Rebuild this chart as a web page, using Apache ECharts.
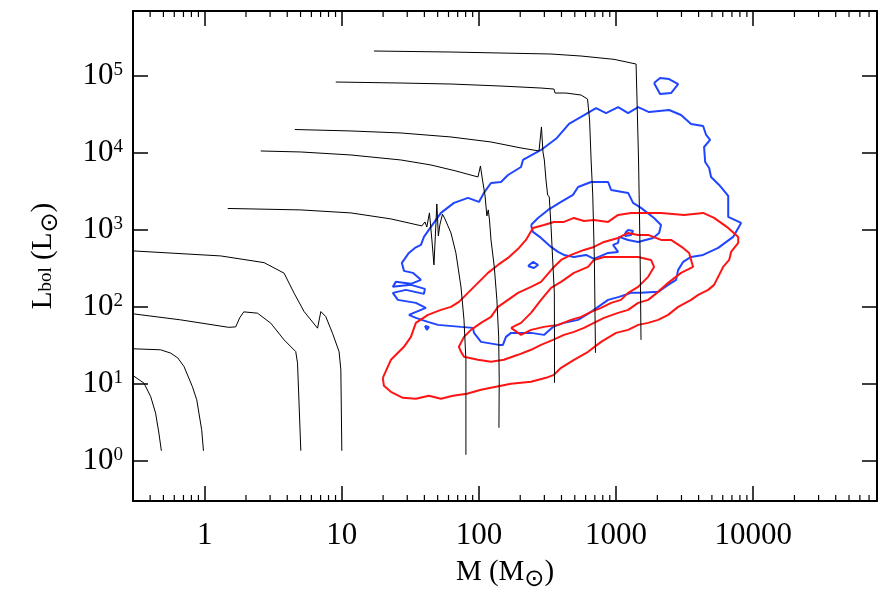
<!DOCTYPE html>
<html>
<head>
<meta charset="utf-8">
<script src="https://cdn.jsdelivr.net/npm/echarts@6/dist/echarts.min.js"></script>
<style>
  html, body { margin: 0; padding: 0; background: #fff; }
  #chart { width: 886px; height: 590px; }
</style>
</head>
<body>
<div id="chart"></div>
<script>
// every point is [log10 M (Msun), log10 Lbol (Lsun)]

// evolutionary tracks (black)
const track1 = [[-0.52, 1.104], [-0.443, 1.009], [-0.394, 0.835], [-0.358, 0.619], [-0.334, 0.36], [-0.316, 0.13]];
const track2 = [[-0.52, 1.455], [-0.321, 1.442], [-0.248, 1.399], [-0.197, 1.338], [-0.151, 1.225], [-0.09, 0.965],
  [-0.058, 0.792], [-0.042, 0.619], [-0.022, 0.403], [-0.009, 0.13]];
const track3 = [[-0.52, 1.909], [-0.175, 1.831], [0.175, 1.734], [0.226, 1.74], [0.255, 1.857], [0.285, 1.935],
  [0.385, 1.918], [0.482, 1.788], [0.579, 1.571], [0.664, 1.419], [0.677, 1.269], [0.688, 0.749], [0.701, 0.13]];
const track4 = [[-0.52, 2.727], [0.117, 2.662], [0.433, 2.575], [0.579, 2.438], [0.652, 2.178], [0.725, 1.939],
  [0.823, 1.723], [0.847, 1.939], [0.883, 1.874], [0.932, 1.658], [0.98, 1.419], [0.993, 1.182], [1.0, 0.13]];
const track5 = [[0.168, 3.279], [0.701, 3.26], [1.066, 3.221], [1.358, 3.143], [1.584, 3.052], [1.606, 3.104],
  [1.62, 3.039], [1.639, 3.221], [1.657, 2.87], [1.672, 2.545], [1.693, 3.338], [1.704, 2.922], [1.715, 3.065],
  [1.734, 3.205], [1.752, 3.143], [1.796, 2.961], [1.832, 2.701], [1.869, 2.26], [1.891, 1.831], [1.905, 1.312],
  [1.905, 0.792], [1.905, 0.078]];
const track6 = [[0.409, 4.026], [0.701, 4.013], [1.066, 3.974], [1.431, 3.909], [1.65, 3.844], [1.832, 3.766],
  [1.993, 3.688], [2.011, 3.831], [2.026, 3.649], [2.044, 3.455], [2.058, 3.182], [2.068, 3.26], [2.077, 3.13],
  [2.088, 2.87], [2.112, 2.519], [2.131, 2.091], [2.144, 1.61], [2.148, 1.052], [2.146, 0.429]];
const track7 = [[0.657, 4.305], [1.066, 4.286], [1.431, 4.26], [1.796, 4.208], [2.088, 4.143], [2.307, 4.065],
  [2.438, 4.026], [2.456, 4.338], [2.467, 4.013], [2.477, 3.909], [2.489, 3.649], [2.501, 3.455], [2.513, 3.429],
  [2.526, 3.039], [2.538, 2.61], [2.55, 2.182], [2.551, 1.532], [2.551, 1.013]];
const track8 = [[0.956, 4.922], [1.431, 4.909], [1.796, 4.896], [2.161, 4.87], [2.453, 4.844], [2.547, 4.831],
  [2.555, 4.779], [2.635, 4.779], [2.745, 4.753], [2.792, 4.701], [2.807, 4.429], [2.818, 3.909], [2.83, 3.455],
  [2.842, 2.61], [2.85, 1.403]];
const track9 = [[1.234, 5.325], [1.796, 5.312], [2.526, 5.286], [2.745, 5.26], [2.985, 5.217], [3.146, 5.156],
  [3.153, 4.688], [3.164, 3.909], [3.175, 2.74], [3.182, 1.571]];

// blue contours
const blueOuter = [[1.489, 1.896], [1.613, 1.987], [1.54, 2.052], [1.409, 2.091], [1.372, 2.182], [1.467, 2.221],
  [1.599, 2.169], [1.606, 2.234], [1.504, 2.286], [1.372, 2.26], [1.394, 2.325], [1.504, 2.299], [1.577, 2.351],
  [1.518, 2.442], [1.453, 2.468], [1.438, 2.571], [1.489, 2.701], [1.533, 2.766], [1.577, 2.805], [1.599, 2.909],
  [1.65, 3.039], [1.723, 3.221], [1.818, 3.351], [1.92, 3.416], [2.0, 3.364], [2.036, 3.481], [2.088, 3.61],
  [2.161, 3.623], [2.212, 3.714], [2.307, 3.818], [2.321, 3.909], [2.453, 4.039], [2.569, 4.195], [2.657, 4.377],
  [2.745, 4.468], [2.854, 4.584], [2.927, 4.519], [3.015, 4.597], [3.088, 4.519], [3.161, 4.597], [3.241, 4.532],
  [3.387, 4.558], [3.474, 4.494], [3.547, 4.377], [3.635, 4.351], [3.657, 4.234], [3.686, 4.169], [3.642, 4.078],
  [3.65, 3.883], [3.679, 3.805], [3.693, 3.688], [3.752, 3.584], [3.818, 3.442], [3.818, 3.169], [3.912, 3.091],
  [3.854, 2.909], [3.745, 2.766], [3.635, 2.675], [3.547, 2.649], [3.489, 2.584], [3.453, 2.481], [3.438, 2.351],
  [3.38, 2.286], [3.307, 2.195], [3.182, 2.182], [3.109, 2.182], [3.022, 2.13], [2.942, 2.091], [2.869, 2.0],
  [2.818, 1.935], [2.723, 1.831], [2.62, 1.792], [2.54, 1.74], [2.474, 1.636], [2.38, 1.662], [2.234, 1.662],
  [2.197, 1.61], [2.175, 1.506], [2.146, 1.506], [2.015, 1.545], [1.964, 1.662], [1.956, 1.727], [1.869, 1.74],
  [1.701, 1.766], [1.628, 1.805], [1.54, 1.857]];
const blueInner = [[2.38, 3.065], [2.431, 3.156], [2.504, 3.26], [2.599, 3.364], [2.686, 3.455], [2.723, 3.558],
  [2.818, 3.623], [2.942, 3.623], [2.964, 3.519], [3.088, 3.481], [3.124, 3.351], [3.182, 3.286], [3.277, 3.156],
  [3.328, 3.065], [3.314, 2.961], [3.27, 2.896], [3.161, 2.844], [3.088, 2.87], [3.022, 2.909], [3.015, 2.831],
  [2.978, 2.805], [3.015, 2.714], [2.942, 2.701], [2.839, 2.623], [2.781, 2.675], [2.693, 2.649], [2.62, 2.675],
  [2.577, 2.714], [2.526, 2.779], [2.453, 2.896], [2.394, 2.974]];
const blueIslandTop = [[3.277, 4.909], [3.321, 4.974], [3.387, 4.961], [3.453, 4.896], [3.401, 4.779], [3.321, 4.766]];
const blueIslandMid = [[3.066, 2.961], [3.088, 3.0], [3.124, 2.987], [3.109, 2.935], [3.066, 2.922]];
const blueIslandLow = [[2.358, 2.532], [2.394, 2.584], [2.431, 2.545], [2.401, 2.506]];
const blueIslandLeft = [[1.606, 1.753], [1.635, 1.74], [1.62, 1.701]];

// red contours
const redOuter = [[1.299, 1.078], [1.358, 1.312], [1.453, 1.481], [1.504, 1.61], [1.54, 1.792], [1.628, 1.896],
  [1.723, 1.961], [1.796, 2.0], [1.854, 2.065], [1.92, 2.182], [1.993, 2.312], [2.066, 2.442], [2.139, 2.545],
  [2.212, 2.636], [2.292, 2.766], [2.343, 2.87], [2.394, 3.026], [2.474, 3.065], [2.547, 3.104], [2.62, 3.104],
  [2.693, 3.156], [2.766, 3.117], [2.839, 3.13], [2.942, 3.104], [3.015, 3.195], [3.109, 3.221], [3.234, 3.221],
  [3.328, 3.221], [3.496, 3.195], [3.635, 3.221], [3.715, 3.156], [3.818, 3.026], [3.891, 2.909], [3.891, 2.831],
  [3.839, 2.714], [3.825, 2.61], [3.781, 2.519], [3.752, 2.416], [3.715, 2.286], [3.672, 2.221], [3.599, 2.156],
  [3.547, 2.091], [3.453, 2.0], [3.38, 1.896], [3.307, 1.831], [3.234, 1.792], [3.161, 1.766], [3.088, 1.701],
  [3.0, 1.662], [2.891, 1.545], [2.796, 1.416], [2.693, 1.312], [2.599, 1.208], [2.547, 1.117], [2.489, 1.078],
  [2.38, 1.026], [2.234, 1.0], [2.124, 0.961], [2.015, 0.922], [1.912, 0.87], [1.81, 0.844], [1.723, 0.805],
  [1.635, 0.844], [1.54, 0.805], [1.445, 0.818], [1.358, 0.896], [1.307, 0.974]];
const redMiddle = [[1.869, 1.416], [1.854, 1.481], [1.891, 1.61], [1.942, 1.701], [2.015, 1.792], [2.088, 1.87],
  [2.139, 2.0], [2.212, 2.091], [2.285, 2.182], [2.38, 2.26], [2.453, 2.325], [2.547, 2.519], [2.599, 2.61],
  [2.672, 2.675], [2.766, 2.74], [2.839, 2.779], [2.912, 2.844], [3.015, 2.896], [3.088, 2.961], [3.161, 2.935],
  [3.234, 2.935], [3.328, 2.87], [3.401, 2.87], [3.489, 2.766], [3.533, 2.701], [3.562, 2.519], [3.474, 2.442],
  [3.38, 2.312], [3.307, 2.195], [3.234, 2.091], [3.161, 2.052], [3.088, 1.961], [3.015, 1.922], [2.912, 1.857],
  [2.839, 1.792], [2.766, 1.727], [2.693, 1.675], [2.62, 1.636], [2.54, 1.571], [2.453, 1.506], [2.38, 1.442],
  [2.285, 1.377], [2.182, 1.312], [2.088, 1.286], [1.993, 1.312], [1.891, 1.351]];
const redInner = [[2.234, 1.727], [2.307, 1.636], [2.38, 1.701], [2.474, 1.74], [2.577, 1.766], [2.672, 1.831],
  [2.745, 1.87], [2.818, 1.935], [2.891, 1.987], [2.964, 2.052], [3.036, 2.091], [3.088, 2.182], [3.161, 2.26],
  [3.234, 2.39], [3.277, 2.519], [3.255, 2.61], [3.161, 2.649], [3.058, 2.649], [2.912, 2.649], [2.839, 2.61],
  [2.796, 2.519], [2.693, 2.442], [2.599, 2.325], [2.526, 2.247], [2.453, 2.091], [2.38, 1.922], [2.307, 1.792]];

// axes
const xRange = [0.3, 8e4];
const yRange = [0.3, 7e5];
const xMajor = [1, 10, 100, 1000, 10000];
const yMajor = [1, 10, 100, 1000, 10000, 100000];
const minorSteps = [2, 3, 4, 5, 6, 7, 8, 9];
const minorDecades = [0.1, 1, 10, 100, 1000, 10000];

const FONT = "'Liberation Serif', 'DejaVu Serif', serif";
const SYM = "'DejaVu Sans', sans-serif";

const lin = pts => pts.map(p => [Math.pow(10, p[0]), Math.pow(10, p[1])]);
const loop = pts => lin(pts.concat([pts[0]]));

const xMinor = [];
minorDecades.forEach(d => minorSteps.forEach(s => {
  const v = +(d * s).toPrecision(3);
  if (v > xRange[0] && v < xRange[1]) xMinor.push([v, 1]);
}));

const series = [];
[track1, track2, track3, track4, track5, track6, track7, track8, track9].forEach(t => {
  series.push({ type: 'line', data: lin(t), showSymbol: false, lineStyle: { color: '#000', width: 1 }, z: 3 });
});
[blueOuter, blueInner, blueIslandTop, blueIslandMid, blueIslandLow, blueIslandLeft].forEach(c => {
  series.push({ type: 'line', data: loop(c), showSymbol: false, lineStyle: { color: '#1f45ff', width: 2 }, z: 2 });
});
[redOuter, redMiddle, redInner].forEach(c => {
  series.push({ type: 'line', data: loop(c), showSymbol: false, lineStyle: { color: '#ff1414', width: 2 }, z: 2 });
});
// short minor ticks on the bottom and top frame
series.push({
  type: 'custom',
  data: xMinor,
  silent: true,
  z: 5,
  renderItem: (params, api) => {
    const v = api.value(0);
    const b = api.coord([v, yRange[0]]);
    const t = api.coord([v, yRange[1]]);
    const st = { stroke: '#000', lineWidth: 1.2 };
    return {
      type: 'group',
      children: [
        { type: 'line', shape: { x1: b[0], y1: b[1], x2: b[0], y2: b[1] - 6 }, style: st },
        { type: 'line', shape: { x1: t[0], y1: t[1], x2: t[0], y2: t[1] + 6 }, style: st }
      ]
    };
  }
});

const frame = { show: true, onZero: false, lineStyle: { color: '#000', width: 2 } };
const majorTick = values => ({ show: true, inside: true, length: 15, customValues: values, lineStyle: { color: '#000', width: 1.5 } });

const chart = echarts.init(document.getElementById('chart'));
chart.setOption({
  animation: false,
  backgroundColor: '#fff',
  grid: { left: 133, right: 9, top: 11, bottom: 89, containLabel: false, outerBoundsMode: 'none' },
  xAxis: [
    {
      type: 'log', min: xRange[0], max: xRange[1], position: 'bottom',
      axisLine: frame, axisTick: majorTick(xMajor), splitLine: { show: false },
      axisLabel: {
        customValues: xMajor, margin: 19, color: '#000', fontSize: 31, fontFamily: FONT,
        formatter: v => String(Math.round(v))
      },
      name: 'M (M{o|⊙})', nameLocation: 'middle', nameGap: 51,
      nameTextStyle: {
        color: '#000', fontSize: 29, fontFamily: FONT,
        rich: { o: { fontSize: 24, fontFamily: SYM, color: '#000', padding: [16, 0, 0, 0] } }
      }
    },
    {
      type: 'log', min: xRange[0], max: xRange[1], position: 'top',
      axisLine: frame, axisTick: majorTick(xMajor), axisLabel: { show: false }, splitLine: { show: false }
    }
  ],
  yAxis: [
    {
      type: 'log', min: yRange[0], max: yRange[1], position: 'left',
      axisLine: frame, axisTick: majorTick(yMajor), splitLine: { show: false },
      axisLabel: {
        customValues: yMajor, margin: 10, color: '#000',
        formatter: v => '{b|10}{s|' + Math.round(Math.log10(v)) + '}',
        rich: {
          b: { fontSize: 31, fontFamily: FONT, color: '#000' },
          s: { fontSize: 19, fontFamily: FONT, color: '#000', verticalAlign: 'top' }
        }
      },
      name: 'L{s|bol} (L{o|⊙})', nameLocation: 'middle', nameRotate: 90, nameGap: 70,
      nameTextStyle: {
        color: '#000', fontSize: 29, fontFamily: FONT,
        rich: {
          s: { fontSize: 19, fontFamily: FONT, color: '#000', padding: [6, 0, 0, 0] },
          o: { fontSize: 24, fontFamily: SYM, color: '#000', padding: [16, 0, 0, 0] }
        }
      }
    },
    {
      type: 'log', min: yRange[0], max: yRange[1], position: 'right',
      axisLine: frame, axisTick: majorTick(yMajor), axisLabel: { show: false }, splitLine: { show: false }
    }
  ],
  series: series
});
</script>
</body>
</html>
